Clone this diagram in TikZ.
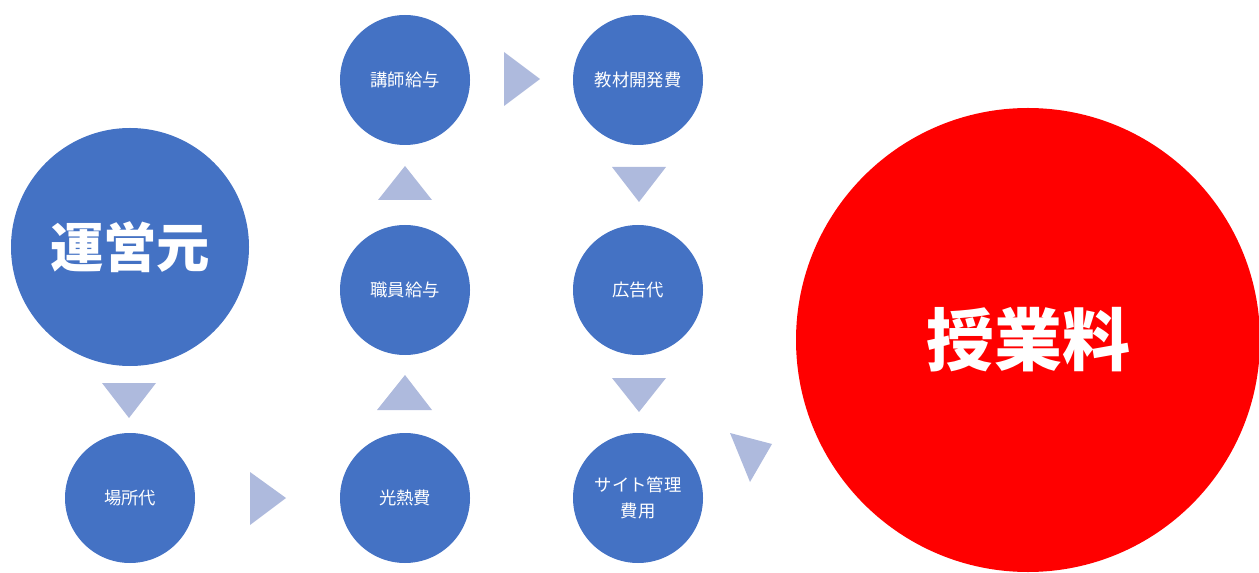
\documentclass[tikz,border=0pt]{standalone}
\usepackage{fontspec}
\setmainfont{Noto Sans CJK JP}
\usepackage{xcolor}
\usepackage{tikz}

\definecolor{costblue}{RGB}{68,114,196}
\definecolor{arrowgrey}{RGB}{174,186,221}
\definecolor{feered}{RGB}{255,0,0}

\begin{document}
\begin{tikzpicture}[x=0.75pt,y=-0.75pt,
	cost/.style={circle,fill=costblue,text=white,inner sep=0pt,minimum size=97.5pt,align=center,font=\fontsize{13}{19.5}\selectfont},
	tri/.style={fill=arrowgrey}]
	\useasboundingbox (0,0) rectangle (1259,573);

	\node[cost,minimum size=178.5pt,font=\bfseries\fontsize{40}{48}\selectfont] (unei) at (130,247) {運営元};
	\node[cost] (basho) at (130,498) {場所代};
	\node[cost] (kounetsu) at (405,498) {光熱費};
	\node[cost] (shokuin) at (405,290) {職員給与};
	\node[cost] (koushi) at (405,80) {講師給与};
	\node[cost] (kyouzai) at (638,80) {教材開発費};
	\node[cost] (koukoku) at (638,290) {広告代};
	\node[cost] (site) at (638,498) {サイト管理\\費用};
	\node[circle,fill=feered,text=white,inner sep=0pt,minimum size=348pt,font=\bfseries\fontsize{51}{60}\selectfont] (jugyou) at (1028,340) {授業料};

	% arrows between the circles
	\fill[tri] (102,383) -- (156,383) -- (129,418) -- cycle;
	\fill[tri] (250,472) -- (250,525) -- (286,498) -- cycle;
	\fill[tri] (377,410) -- (432,410) -- (405,375) -- cycle;
	\fill[tri] (378,200) -- (432,200) -- (405,166) -- cycle;
	\fill[tri] (504,52) -- (504,106) -- (540,79) -- cycle;
	\fill[tri] (612,167) -- (666,167) -- (639,202) -- cycle;
	\fill[tri] (612,378) -- (666,378) -- (639,412) -- cycle;
	\fill[tri] (730,433) -- (772,444) -- (750,482) -- cycle;
\end{tikzpicture}
\end{document}
